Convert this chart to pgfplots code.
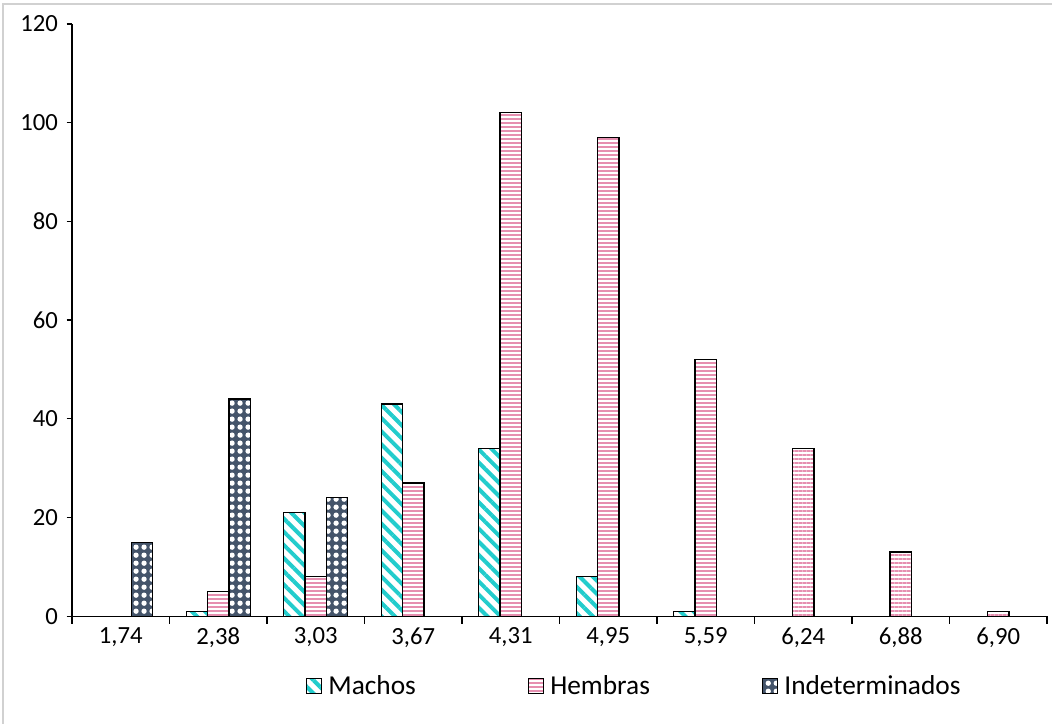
\documentclass[border=0pt]{standalone}
\usepackage{pgfplots}
\pgfplotsset{compat=1.18}
\usetikzlibrary{patterns,patterns.meta}
\usepackage{fontspec}
\setmainfont{Carlito}
\definecolor{machos}{HTML}{22CCCC}
\definecolor{hembras}{HTML}{E68FB0}
\definecolor{indet}{HTML}{44546A}
\begin{document}
\begin{tikzpicture}
\useasboundingbox (-54pt,-80.25pt) rectangle (734.75pt,462pt);
\draw[black!18, line width=1pt] (-51.75pt,-82pt) -- (-51.75pt,459pt) -- (736pt,459pt);
\begin{axis}[
  at={(0,0)}, anchor=south west,
  scale only axis, width=731pt, height=444pt,
  xmin=-0.5, xmax=9.5, ymin=0, ymax=120,
  ytick={0,20,...,120},
  xtick={0,...,9},
  xticklabels={{1,74},{2,38},{3,03},{3,67},{4,31},{4,95},{5,59},{6,24},{6,88},{6,90}},
  minor xtick={-0.5,0.5,...,9.5},
  axis lines*=left,
  axis line style={-, black, line width=1pt},
  tick align=outside,
  tick style={black, line width=0.9pt},
  major tick length=4pt,
  minor tick length=5.5pt,
  major x tick style={draw=none},
  ticklabel style={font=\fontsize{18.5}{21}\selectfont},
  /pgf/number format/assume math mode=true,
  xticklabel style={yshift=-1pt},
  yticklabel style={xshift=-3pt},
  ybar=0pt, bar width=16pt,
  legend columns=3,
  legend style={at={(0.577,-0.118)}, anchor=center, draw=none, fill=none,
    font=\fontsize{20.5}{24}\selectfont,
    /tikz/every even column/.append style={column sep=82pt},
    /tikz/every odd column/.append style={column sep=3pt}},
  legend image code/.code={\draw[#1, line width=0.8pt] (0pt,-5.5pt) rectangle (11pt,5.5pt);},
]
\addplot[draw=black, line width=1pt, pattern={Lines[angle=-45,distance=7pt,line width=3pt]}, pattern color=machos]
  coordinates {(1,1) (2,21) (3,43) (4,34) (5,8) (6,1)};
\addlegendentry{Machos}
\addplot[draw=black, line width=1pt, pattern={Lines[angle=0,distance=3pt,line width=1.5pt]}, pattern color=hembras]
  coordinates {(1,5) (2,8) (3,27) (4,102) (5,97) (6,52) (7,34) (8,13) (9,1)};
\addlegendentry{Hembras}
\addplot[draw=black, line width=1pt, fill=indet, postaction={pattern={Dots[distance=6pt,radius=2pt]}, pattern color=white}]
  coordinates {(0,15) (1,44) (2,24)};
\addlegendentry{Indeterminados}
\end{axis}
\end{tikzpicture}
\end{document}
